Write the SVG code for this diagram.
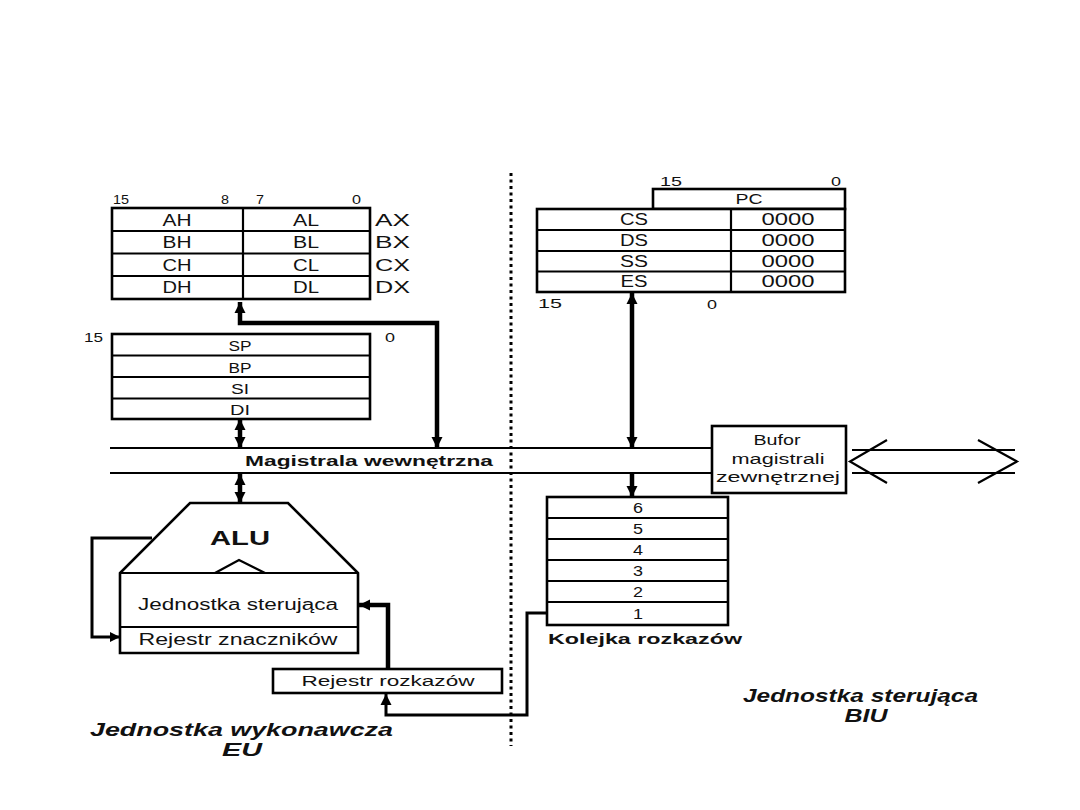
<svg xmlns="http://www.w3.org/2000/svg" width="1080" height="810" viewBox="0 0 1080 810">
<style>
text{font-family:"Liberation Sans",Arial,sans-serif;fill:#111}
.n{font-size:16px}
.m{font-size:14px}
.d{font-size:13px}
.b{font-weight:bold}
.bi{font-weight:bold;font-style:italic;font-size:18px}
.c{text-anchor:middle}
.box{fill:#fff;stroke:#000;stroke-width:2.6}
.div{stroke:#000;stroke-width:2.2;fill:none}
.thick{stroke:#000;stroke-width:4.5;fill:none}
.med{stroke:#000;stroke-width:3;fill:none}
.bus{stroke:#000;stroke-width:2.2;fill:none}
</style>
<defs>
<marker id="ah" viewBox="0 0 10 10" refX="10" refY="5" markerWidth="11" markerHeight="16" markerUnits="userSpaceOnUse" orient="auto-start-reverse"><path d="M0 0 L10 5 L0 10 Z" fill="#000"/></marker>
<marker id="ahs" viewBox="0 0 10 10" refX="10" refY="5" markerWidth="10" markerHeight="13" markerUnits="userSpaceOnUse" orient="auto-start-reverse"><path d="M0 0 L10 5 L0 10 Z" fill="#000"/></marker>
</defs>
<rect width="1080" height="810" fill="#fff"/>

<g id="divider">
<line x1="511" y1="173" x2="511" y2="746" stroke="#000" stroke-width="3" stroke-dasharray="3,3.5"/>
</g>

<g id="general-registers">
<rect class="box" x="112" y="208" width="258" height="91"/>
<line class="div" x1="112" y1="231" x2="370" y2="231"/>
<line class="div" x1="112" y1="253.5" x2="370" y2="253.5"/>
<line class="div" x1="112" y1="276" x2="370" y2="276"/>
<line class="div" x1="243" y1="208" x2="243" y2="299"/>
<text class="d" x="113" y="204" textLength="16" lengthAdjust="spacingAndGlyphs">15</text>
<text class="d" x="221" y="204" textLength="8" lengthAdjust="spacingAndGlyphs">8</text>
<text class="d" x="256" y="204" textLength="8" lengthAdjust="spacingAndGlyphs">7</text>
<text class="d" x="352" y="204" textLength="9" lengthAdjust="spacingAndGlyphs">0</text>
<text class="n c" x="177" y="225.5" textLength="29" lengthAdjust="spacingAndGlyphs">AH</text>
<text class="n c" x="306" y="225.5" textLength="26" lengthAdjust="spacingAndGlyphs">AL</text>
<text class="n c" x="177" y="248" textLength="29" lengthAdjust="spacingAndGlyphs">BH</text>
<text class="n c" x="306" y="248" textLength="26" lengthAdjust="spacingAndGlyphs">BL</text>
<text class="n c" x="177" y="270.5" textLength="29" lengthAdjust="spacingAndGlyphs">CH</text>
<text class="n c" x="306" y="270.5" textLength="26" lengthAdjust="spacingAndGlyphs">CL</text>
<text class="n c" x="177" y="293" textLength="29" lengthAdjust="spacingAndGlyphs">DH</text>
<text class="n c" x="306" y="293" textLength="26" lengthAdjust="spacingAndGlyphs">DL</text>
<text class="n" x="375" y="225.5" textLength="35" lengthAdjust="spacingAndGlyphs">AX</text>
<text class="n" x="375" y="248" textLength="35" lengthAdjust="spacingAndGlyphs">BX</text>
<text class="n" x="375" y="270.5" textLength="35" lengthAdjust="spacingAndGlyphs">CX</text>
<text class="n" x="375" y="293" textLength="35" lengthAdjust="spacingAndGlyphs">DX</text>
</g>

<g id="pointer-registers">
<rect class="box" x="112" y="334" width="258" height="85"/>
<line class="div" x1="112" y1="355.5" x2="370" y2="355.5"/>
<line class="div" x1="112" y1="377" x2="370" y2="377"/>
<line class="div" x1="112" y1="398.5" x2="370" y2="398.5"/>
<text class="d" x="84" y="342" textLength="19" lengthAdjust="spacingAndGlyphs">15</text>
<text class="d" x="385" y="342" textLength="10" lengthAdjust="spacingAndGlyphs">0</text>
<text class="m c" x="240" y="351" textLength="23" lengthAdjust="spacingAndGlyphs">SP</text>
<text class="m c" x="240" y="372.5" textLength="23" lengthAdjust="spacingAndGlyphs">BP</text>
<text class="m c" x="240" y="394" textLength="18" lengthAdjust="spacingAndGlyphs">SI</text>
<text class="m c" x="240" y="415" textLength="20" lengthAdjust="spacingAndGlyphs">DI</text>
</g>

<g id="internal-bus">
<line class="bus" x1="110" y1="448" x2="712" y2="448"/>
<line class="bus" x1="110" y1="473" x2="712" y2="473"/>
<text class="m b" x="245" y="466" textLength="248" lengthAdjust="spacingAndGlyphs">Magistrala wewnętrzna</text>
</g>

<g id="alu">
<polygon class="box" points="190,503 288,503 358,573 358,653 120,653 120,573"/>
<line class="div" x1="120" y1="573" x2="358" y2="573"/>
<polyline class="div" points="215,573 239,560 265,573"/>
<line class="div" x1="120" y1="627" x2="358" y2="627"/>
<text class="b c" x="240" y="545" font-size="21" textLength="60" lengthAdjust="spacingAndGlyphs">ALU</text>
<text class="n c" x="238" y="610" textLength="200" lengthAdjust="spacingAndGlyphs">Jednostka sterująca</text>
<text class="n c" x="238" y="645" textLength="199" lengthAdjust="spacingAndGlyphs">Rejestr znaczników</text>
</g>

<g id="instruction-register">
<rect class="box" x="273" y="669" width="229" height="24"/>
<text class="m c" x="388" y="686" textLength="173" lengthAdjust="spacingAndGlyphs">Rejestr rozkazów</text>
</g>

<g id="segment-registers">
<rect class="box" x="653" y="189" width="192" height="20"/>
<rect class="box" x="537" y="209" width="308" height="83"/>
<line class="div" x1="537" y1="230" x2="845" y2="230"/>
<line class="div" x1="537" y1="251" x2="845" y2="251"/>
<line class="div" x1="537" y1="271.5" x2="845" y2="271.5"/>
<line class="div" x1="731" y1="209" x2="731" y2="292"/>
<text class="d" x="660" y="186" textLength="22" lengthAdjust="spacingAndGlyphs">15</text>
<text class="d" x="831" y="186" textLength="10" lengthAdjust="spacingAndGlyphs">0</text>
<text class="m c" x="749" y="204" textLength="27" lengthAdjust="spacingAndGlyphs">PC</text>
<text class="n c" x="634" y="225" textLength="28" lengthAdjust="spacingAndGlyphs">CS</text>
<text class="n c" x="634" y="246" textLength="28" lengthAdjust="spacingAndGlyphs">DS</text>
<text class="n c" x="634" y="266.5" textLength="28" lengthAdjust="spacingAndGlyphs">SS</text>
<text class="n c" x="634" y="287" textLength="27" lengthAdjust="spacingAndGlyphs">ES</text>
<text class="n c" x="788" y="225" textLength="53" lengthAdjust="spacingAndGlyphs">0000</text>
<text class="n c" x="788" y="246" textLength="53" lengthAdjust="spacingAndGlyphs">0000</text>
<text class="n c" x="788" y="266.5" textLength="53" lengthAdjust="spacingAndGlyphs">0000</text>
<text class="n c" x="788" y="287" textLength="53" lengthAdjust="spacingAndGlyphs">0000</text>
<text class="d" x="538" y="308" textLength="24" lengthAdjust="spacingAndGlyphs">15</text>
<text class="d" x="707" y="309" textLength="10" lengthAdjust="spacingAndGlyphs">0</text>
</g>

<g id="bus-buffer">
<rect class="box" x="712" y="426" width="134" height="67"/>
<text class="m c" x="777" y="445" textLength="47" lengthAdjust="spacingAndGlyphs">Bufor</text>
<text class="m c" x="778" y="464" textLength="93" lengthAdjust="spacingAndGlyphs">magistrali</text>
<text class="m c" x="778" y="482" textLength="124" lengthAdjust="spacingAndGlyphs">zewnętrznej</text>
</g>

<g id="instruction-queue">
<rect class="box" x="547" y="497" width="181" height="128"/>
<line class="div" x1="547" y1="518" x2="728" y2="518"/>
<line class="div" x1="547" y1="539" x2="728" y2="539"/>
<line class="div" x1="547" y1="560" x2="728" y2="560"/>
<line class="div" x1="547" y1="581" x2="728" y2="581"/>
<line class="div" x1="547" y1="602" x2="728" y2="602"/>
<text class="m c" x="638" y="513" textLength="10" lengthAdjust="spacingAndGlyphs">6</text>
<text class="m c" x="638" y="534" textLength="10" lengthAdjust="spacingAndGlyphs">5</text>
<text class="m c" x="638" y="555" textLength="10" lengthAdjust="spacingAndGlyphs">4</text>
<text class="m c" x="638" y="576" textLength="10" lengthAdjust="spacingAndGlyphs">3</text>
<text class="m c" x="638" y="597" textLength="10" lengthAdjust="spacingAndGlyphs">2</text>
<text class="m c" x="638" y="619" textLength="10" lengthAdjust="spacingAndGlyphs">1</text>
<text class="m b" x="548" y="644" textLength="194" lengthAdjust="spacingAndGlyphs">Kolejka rozkazów</text>
</g>

<g id="labels">
<text class="bi" x="90" y="736" textLength="303" lengthAdjust="spacingAndGlyphs">Jednostka wykonawcza</text>
<text class="bi c" x="242" y="756" textLength="40" lengthAdjust="spacingAndGlyphs">EU</text>
<text class="bi" x="743" y="702" textLength="235" lengthAdjust="spacingAndGlyphs">Jednostka sterująca</text>
<text class="bi c" x="866" y="722" textLength="43" lengthAdjust="spacingAndGlyphs">BIU</text>
</g>

<g id="connectors">
<path class="thick" d="M240 302 V323 H437 V448" marker-start="url(#ah)" marker-end="url(#ah)"/>
<path class="thick" d="M240 419 V448" marker-start="url(#ah)" marker-end="url(#ah)"/>
<path class="thick" d="M240 474 V503" marker-start="url(#ah)" marker-end="url(#ah)"/>
<path class="thick" d="M632 293 V448" marker-start="url(#ah)" marker-end="url(#ah)"/>
<path class="thick" d="M632 474 V497" marker-end="url(#ah)"/>
<path class="med" d="M547 613 H527 V715 H386 V694" marker-end="url(#ah)"/>
<path class="thick" d="M388 669 V605 H359" marker-end="url(#ah)"/>
<path class="med" d="M152 538 H92 V637 H120" marker-end="url(#ahs)"/>
<g id="external-bus" stroke="#000" stroke-width="2.2" fill="none">
<line x1="852" y1="450" x2="1015" y2="450"/>
<line x1="852" y1="473" x2="1015" y2="473"/>
<polyline points="887,440 850,461.5 887,483"/>
<polyline points="978,440 1017,461.5 978,483"/>
</g>
</g>
</svg>
